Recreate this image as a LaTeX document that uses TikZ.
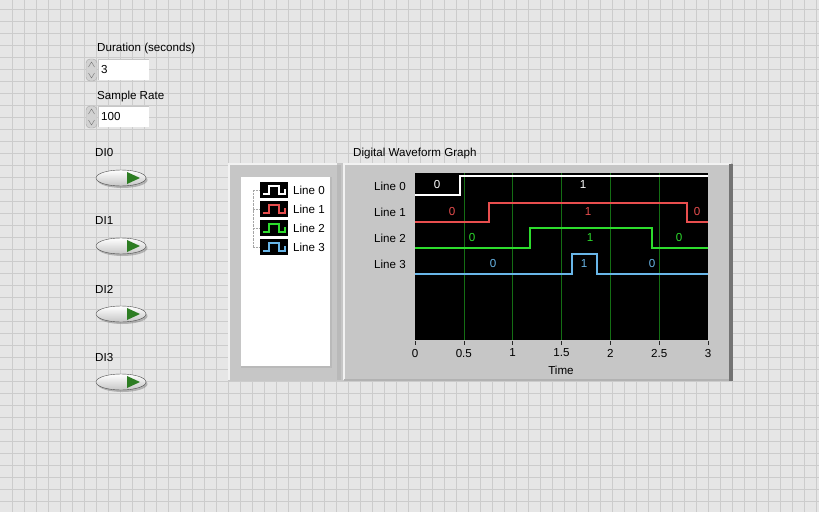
\documentclass[tikz,border=0pt]{standalone}
\usepackage{fontspec}
\setmainfont{Liberation Sans}
\usetikzlibrary{shapes.geometric,shadows}
\definecolor{panelbg}{RGB}{230,230,230}
\definecolor{gridc}{RGB}{204,204,204}
\definecolor{framec}{RGB}{198,198,198}
\definecolor{wred}{RGB}{232,78,78}
\definecolor{wgreen}{RGB}{45,220,45}
\definecolor{wblue}{RGB}{105,182,232}
\definecolor{plotgrid}{RGB}{20,110,20}
\definecolor{ledgreen}{RGB}{45,125,35}
\tikzset{
  lbl/.style={font=\fontsize{11.6}{13}\selectfont, inner sep=0pt},
  ledbtn/.style={ellipse, minimum width=50pt, minimum height=16pt, inner sep=0pt,
    draw=gray!60!black, top color=white, bottom color=gray!45,
    drop shadow={shadow xshift=1.5pt, shadow yshift=-2pt, opacity=0.5}},
  gridline/.style={gridc, line width=0.6pt},
  wave/.style={line width=1.6pt}
}
\begin{document}
\begin{tikzpicture}[x=1pt,y=-1pt]
\useasboundingbox (0,0) rectangle (819,512);
\fill[panelbg] (0,0) rectangle (819,512);
\foreach \x in {12,24,...,816} \draw[gridline] (\x,0) -- (\x,512);
\foreach \y in {9,21,...,509} \draw[gridline] (0,\y) -- (819,\y);
% numeric controls
\node[lbl, anchor=west] (dur) at (97,48) {Duration (seconds)};
\node[lbl, anchor=west] (rate) at (97,96) {Sample Rate};
\foreach \n/\y/\v in {dur/70/3, rate/117/100} {
  \draw[gray!70, fill=gray!35, rounded corners=4pt] (86,\y-11) rectangle (97,\y+11);
  \draw[gray!90!black] (88.5,\y-3) -- (91.5,\y-8) -- (94.5,\y-3);
  \draw[gray!90!black] (88.5,\y+3) -- (91.5,\y+8) -- (94.5,\y+3);
  \fill[white] (98,\y-11) rectangle (149,\y+10);
  \draw[gray!45] (98,\y+10) -- (98,\y-11) -- (149,\y-11);
  \node[lbl, anchor=west] (\n box) at (101,\y) {\v};
}
% boolean buttons
\foreach \i/\y in {0/178, 1/246, 2/314, 3/382} {
  \node[lbl, anchor=west] (di\i) at (95,\y-25) {DI\i};
  \node[ledbtn] (btn\i) at (121,\y) {};
  \fill[ledgreen] (btn\i.center) ++(6,-6) -- ++(0,12) -- ++(13,-6) -- cycle;
}
% legend
\fill[framec] (228,163) rectangle (343,381);
\fill[gray!55] (337,165) rectangle (341,380);
\draw[white!90!gray, line width=1.5pt] (229,380) -- (229,164) -- (337,164);
\fill[white] (241,177) rectangle (331,367);
\draw[gray!55, line width=2pt] (241,367) -- (331,367) -- (331,177);
\node[anchor=north west, inner sep=0pt, minimum width=90pt, minimum height=190pt] (legend) at (241,177) {};
\draw[gray!70, densely dotted] (253,190) -- (253,247);
\foreach \i/\y/\c in {0/190/white, 1/209/wred, 2/228/wgreen, 3/247/wblue} {
  \draw[gray!70, densely dotted] (253,\y) -- (260,\y);
  \fill[black] (260,\y-8) rectangle (288,\y+8);
  \draw[\c, line width=1.2pt] (263,\y+4) -- (269,\y+4) -- (269,\y-4) -- (279,\y-4)
    -- (279,\y+4) -- (285,\y+4) -- (285,\y-1);
  \node[lbl, anchor=west] (leg\i) at (293,\y) {Line \i};
}
% graph
\node[lbl, anchor=west] (title) at (353,153) {Digital Waveform Graph};
\fill[framec] (343,163) rectangle (733,381);
\draw[white!90!gray, line width=1.5pt] (344,380) -- (344,164) -- (731,164);
\fill[black!55] (729,164) rectangle (733,381);
\draw[gray!60, line width=1.5pt] (344,380) -- (729,380);
\node[fill=black, anchor=north west, inner sep=0pt, minimum width=293pt, minimum height=167pt] (plot) at (415,173) {};
\foreach \t in {0.5,1,...,2.5} \draw[plotgrid] ({415+\t*97.67},173) -- ({415+\t*97.67},340);
\foreach \t in {0,0.5,1,1.5,2,2.5,3} {
  \draw[gray!30!black] ({415+\t*97.67},341) -- ({415+\t*97.67},345);
  \node[lbl] (tick\t) at ({415+\t*97.67},353) {\t};
}
\node[lbl] (time) at (561,370) {Time};
\foreach \i/\y in {0/186, 1/212, 2/238, 3/264} \node[lbl, anchor=east] (yl\i) at (406,\y) {Line \i};
\draw[wave, white] (415,195) -- (460,195) -- (460,176) -- (708,176);
\draw[wave, wred] (415,222) -- (489,222) -- (489,203) -- (687,203) -- (687,222) -- (708,222);
\draw[wave, wgreen] (415,248) -- (530,248) -- (530,228) -- (652,228) -- (652,248) -- (708,248);
\draw[wave, wblue] (415,274) -- (572,274) -- (572,254) -- (597,254) -- (597,274) -- (708,274);
\foreach \k/\x/\y/\v/\c in {a/437/185/0/white, b/583/185/1/white,
  c/452/212/0/wred, d/588/212/1/wred, e/697/212/0/wred,
  f/472/238/0/wgreen, g/590/238/1/wgreen, h/679/238/0/wgreen,
  i/493/264/0/wblue, j/584/264/1/wblue, k/652/264/0/wblue}
  \node[lbl, text=\c] (val\k) at (\x,\y) {\v};
\end{tikzpicture}
\end{document}
